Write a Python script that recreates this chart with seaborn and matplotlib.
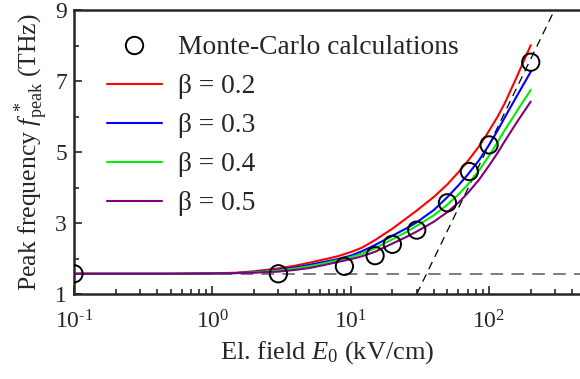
import matplotlib
matplotlib.use("Agg")
import matplotlib.pyplot as plt
import seaborn as sns
import numpy as np
from matplotlib.ticker import LogLocator, FixedLocator, FuncFormatter, NullFormatter
from matplotlib.lines import Line2D

# Monte-Carlo points
mc_E = [0.1, 3, 9, 15, 20, 30, 50, 72, 100, 200]
mc_f = [1.57, 1.57, 1.78, 2.08, 2.40, 2.80, 3.57, 4.45, 5.20, 7.53]

# model curves
curve_E = [0.1, 0.5, 1, 1.5, 2, 3, 4, 5, 6.5, 8, 10, 12, 15, 20, 25, 30,
           40, 50, 60, 70, 85, 100, 115, 130, 160, 200]
f_b02 = [1.57, 1.57, 1.58, 1.60, 1.64, 1.72, 1.80, 1.88, 1.98, 2.06, 2.18, 2.30, 2.52, 2.84, 3.12, 3.35,
         3.74, 4.09, 4.43, 4.74, 5.17, 5.60, 5.99, 6.38, 7.15, 8.01]
f_b03 = [1.57, 1.57, 1.58, 1.59, 1.62, 1.68, 1.75, 1.82, 1.91, 1.98, 2.08, 2.20, 2.38, 2.64, 2.84, 3.02,
         3.37, 3.73, 4.06, 4.36, 4.78, 5.20, 5.60, 5.98, 6.60, 7.26]
f_b04 = [1.57, 1.57, 1.58, 1.59, 1.61, 1.66, 1.72, 1.78, 1.87, 1.95, 2.04, 2.13, 2.29, 2.54, 2.74, 2.92,
         3.22, 3.52, 3.80, 4.08, 4.49, 4.90, 5.27, 5.62, 6.17, 6.75]
f_b05 = [1.57, 1.57, 1.58, 1.59, 1.60, 1.63, 1.68, 1.73, 1.82, 1.90, 1.98, 2.06, 2.19, 2.42, 2.60, 2.76,
         3.04, 3.31, 3.57, 3.84, 4.23, 4.62, 4.97, 5.31, 5.86, 6.42]
betas = ["0.2", "0.3", "0.4", "0.5"]
colors = ["#ff0000", "#0000ff", "#00ee00", "#800080"]

# guide lines
hline_E = [0.1, 460]
hline_f = [1.57, 1.57]
slope_E = [30, 297]
slope_f = [1.0, 9.0]

y_major = [1, 3, 5, 7, 9]
y_minor = [2, 4, 6, 8]

sns.set_style("ticks")
plt.rcParams["font.family"] = ["Liberation Serif", "DejaVu Serif"]
plt.rcParams["mathtext.fontset"] = "custom"
plt.rcParams["mathtext.rm"] = "Liberation Serif"
plt.rcParams["mathtext.it"] = "Liberation Serif:italic"
plt.rcParams["mathtext.bf"] = "Liberation Serif:bold"

fig = plt.figure(figsize=(5.8, 3.79), dpi=100)
ax = fig.add_axes([74/580, 1-294/379, 1-74/580, (294-10)/379])

ax.plot(hline_E, hline_f, color="#666666", lw=1.2, dashes=(7.5, 5), zorder=1)
ax.plot(slope_E, slope_f, color="black", lw=0.9, dashes=(6.5, 4.5), zorder=1)

for vals, b, c in zip([f_b02, f_b03, f_b04, f_b05], betas, colors):
    sns.lineplot(x=curve_E, y=vals, color=c, lw=1.5, ax=ax, label=None, zorder=2)

sns.scatterplot(x=mc_E, y=mc_f, ax=ax, marker="o", s=155, facecolors="none",
                edgecolor="black", linewidth=1.4, zorder=3)

ax.set_xscale("log")
ax.set_xlim(0.1, 10**(2 + 91/138.5))
ax.set_ylim(1, 9)
ax.yaxis.set_major_locator(FixedLocator(y_major))
ax.yaxis.set_minor_locator(FixedLocator(y_minor))
ax.xaxis.set_major_locator(LogLocator(base=10, numticks=10))
ax.xaxis.set_minor_locator(LogLocator(base=10, subs=np.arange(2, 10), numticks=20))
ax.xaxis.set_minor_formatter(NullFormatter())

def fmt(v, pos):
    e = int(round(np.log10(v)))
    return "10$^{\\mathregular{%s}}$" % (str(e).replace("-", "\u2010"))
ax.xaxis.set_major_formatter(FuncFormatter(fmt))

ax.tick_params(which="both", direction="in", labelsize=17, width=1.2)
ax.tick_params(which="major", length=6)
ax.tick_params(which="minor", length=3.5)
ax.tick_params(axis="x", pad=12)
ax.tick_params(axis="y", pad=5)
for s in ["left", "bottom", "top"]:
    ax.spines[s].set_linewidth(1.8)
ax.spines["right"].set_visible(False)

ax.set_xlabel(r"El. field $\mathit{E}_0$ (kV/cm)", fontsize=19, labelpad=4)
ax.set_ylabel(r"Peak frequency $\mathit{f}^{\,*}_{\rm peak}$ (THz)", fontsize=18.5, labelpad=4)

handles = [Line2D([], [], ls="none", marker="o", ms=12.5, mfc="none", mec="black", mew=1.4)]
labels = ["Monte-Carlo calculations"]
for b, c in zip(betas, colors):
    handles.append(Line2D([], [], color=c, lw=1.5))
    labels.append("\u03b2 = " + b)
ax.legend(handles, labels, loc="upper left", frameon=False, fontsize=19.8,
          handlelength=2.0, handletextpad=0.6, labelspacing=0.5,
          bbox_to_anchor=(0.043, 0.95), borderaxespad=0)

fig.savefig("out.png", dpi=100)
